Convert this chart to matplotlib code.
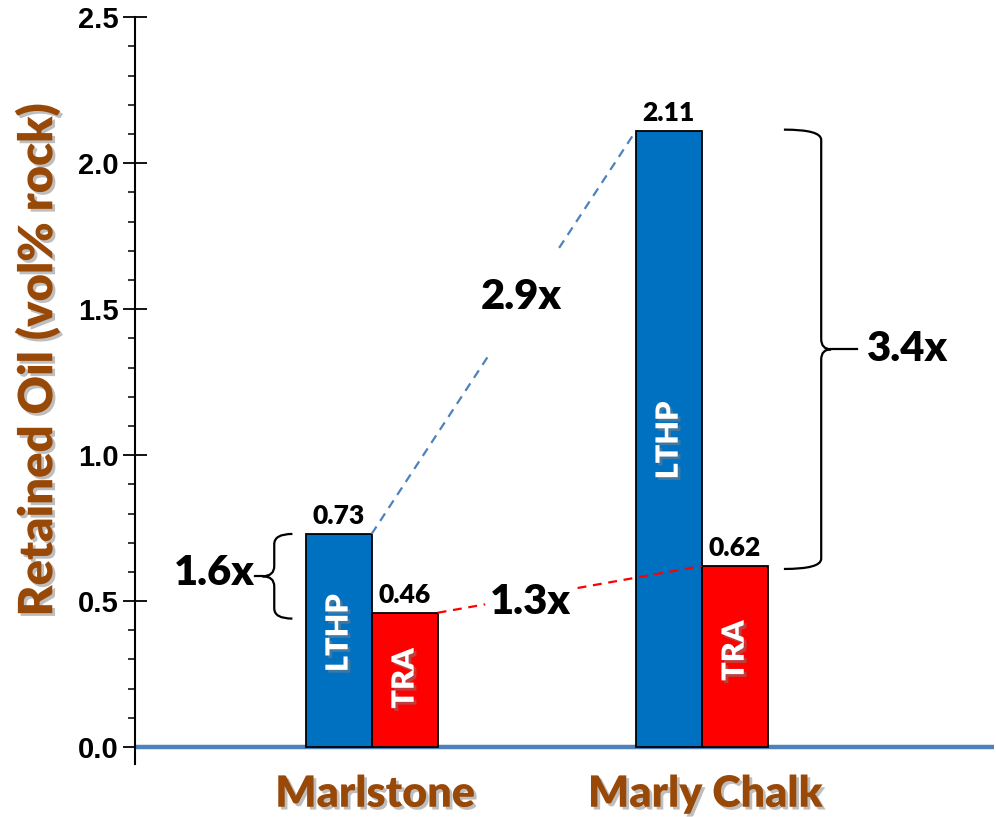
import numpy as np
import matplotlib.pyplot as plt
from matplotlib.path import Path
from matplotlib.patches import PathPatch
import matplotlib.patheffects as pe

# Data
groups = ["Marlstone", "Marly Chalk"]
lthp = [0.73, 2.11]
tra = [0.46, 0.62]
ratio_lthp = "2.9x"
ratio_tra = "1.3x"
ratio_marl = "1.6x"
ratio_chalk = "3.4x"

BLUE = "#0070C0"
RED = "#FF0000"
BROWN = "#984807"
AXIS_BLUE = "#4F81BD"
LABEL_FONT = "Lato"
WEIGHT = "heavy"

shadow = [pe.withSimplePatchShadow(offset=(2, -2), shadow_rgbFace="#7f7f7f", alpha=0.5)]

fig = plt.figure(figsize=(9.96, 8.17), dpi=100)
ax = fig.add_axes([0.1355, 0.0649, 0.862, 0.914])

x = np.arange(len(groups))
w = 0.2
ax.bar(x - w / 2, lthp, w, color=BLUE, edgecolor="black", linewidth=1.3, zorder=3)
ax.bar(x + w / 2, tra, w, color=RED, edgecolor="black", linewidth=1.3, zorder=3)

# Value labels above bars
for i in range(len(groups)):
    ax.text(x[i] - w / 2, lthp[i] + 0.02, f"{lthp[i]:.2f}", ha="center", va="bottom",
            fontsize=19, fontweight=WEIGHT, family=LABEL_FONT)
    ax.text(x[i] + w / 2, tra[i] + 0.02, f"{tra[i]:.2f}", ha="center", va="bottom",
            fontsize=19, fontweight=WEIGHT, family=LABEL_FONT)

# Series names inside bars
inner = [(x[0] - w / 2, 0.39, "LTHP"), (x[0] + w / 2, 0.235, "TRA"),
         (x[1] - w / 2, 1.05, "LTHP"), (x[1] + w / 2, 0.33, "TRA")]
for xi, yi, s in inner:
    ax.text(xi, yi, s, rotation=90, ha="center", va="center", color="white",
            fontsize=22, fontweight=WEIGHT, family=LABEL_FONT, zorder=5,
            path_effects=shadow)


# Dashed connectors, broken around the ratio text
def broken_line(x0, y0, x1, y1, t_gap, color):
    for a, b in [(0, t_gap[0]), (t_gap[1], 1)]:
        ax.plot([x0 + a * (x1 - x0), x0 + b * (x1 - x0)],
                [y0 + a * (y1 - y0), y0 + b * (y1 - y0)],
                color=color, lw=1.6, ls=(0, (4, 3)), zorder=4)


broken_line(x[0], lthp[0], x[1] - w, lthp[1], (0.44, 0.71), AXIS_BLUE)
broken_line(x[0] + w, tra[0], x[1], tra[1], (0.18, 0.53), RED)

ax.text(0.453, 1.54, ratio_lthp, ha="center", va="center", fontsize=30,
        fontweight=WEIGHT, family=LABEL_FONT)
ax.text(0.48, 0.497, ratio_tra, ha="center", va="center", fontsize=30,
        fontweight=WEIGHT, family=LABEL_FONT)


# Curly braces
def brace(x_end, x_sh, x_tip, x_stub, y_top, y_bot, r=0.035):
    ym = (y_top + y_bot) / 2
    s = 1 if y_top > y_bot else -1
    verts = [(x_end, y_top), (x_sh, y_top), (x_sh, y_top - s * r),
             (x_sh, ym + s * r),
             (x_sh, ym), (x_tip, ym),
             (x_sh, ym), (x_sh, ym - s * r),
             (x_sh, y_bot + s * r),
             (x_sh, y_bot), (x_end, y_bot)]
    codes = [Path.MOVETO, Path.CURVE3, Path.CURVE3,
             Path.LINETO,
             Path.CURVE3, Path.CURVE3,
             Path.CURVE3, Path.CURVE3,
             Path.LINETO,
             Path.CURVE3, Path.CURVE3]
    ax.add_patch(PathPatch(Path(verts, codes), fill=False, lw=1.6, ec="black", zorder=4))
    ax.plot([x_tip, x_stub], [ym, ym], color="black", lw=1.6, zorder=4)
    return ym


ym = brace(-0.240, -0.295, -0.331, -0.353, lthp[0], 0.44)
ax.text(-0.353, ym + 0.01, ratio_marl, ha="right", va="center", fontsize=30,
        fontweight=WEIGHT, family=LABEL_FONT)
ym = brace(1.249, 1.362, 1.392, 1.471, lthp[1] + 0.005, tra[1] - 0.01)
ax.text(1.50, ym, ratio_chalk, ha="left", va="center", fontsize=30,
        fontweight=WEIGHT, family=LABEL_FONT)

# Axes styling
ax.set_xlim(-0.717, 1.884)
ax.set_ylim(-0.058, 2.5)
ax.axhline(0, xmin=0.003, xmax=1.0, color=AXIS_BLUE, lw=3.2, zorder=2)
for side in ["top", "right", "bottom"]:
    ax.spines[side].set_visible(False)
ax.spines["left"].set_linewidth(1.5)
ax.set_xticks([])
ax.set_yticks(np.arange(0, 2.51, 0.5))
ax.set_yticks(np.arange(0, 2.51, 0.1), minor=True)
ax.tick_params(axis="y", which="major", direction="inout", length=17, width=1.3, pad=3)
ax.tick_params(axis="y", which="minor", direction="out", length=5, width=1.1)
ax.set_yticklabels([f"{v:.1f}" for v in np.arange(0, 2.51, 0.5)],
                   fontsize=21, fontweight="bold", family="Liberation Sans")

ax.set_ylabel("Retained Oil (vol% rock)", fontsize=34, fontweight=WEIGHT,
              family=LABEL_FONT, color=BROWN, path_effects=shadow)
ax.yaxis.set_label_coords(-0.087, 0.542)

for xi, g in zip(x, groups):
    ax.text(xi + 0.01, -0.16, g, ha="center", va="center", fontsize=31,
            fontweight=WEIGHT, family=LABEL_FONT, color=BROWN,
            path_effects=shadow, clip_on=False)

fig.savefig("out.png", dpi=100)
